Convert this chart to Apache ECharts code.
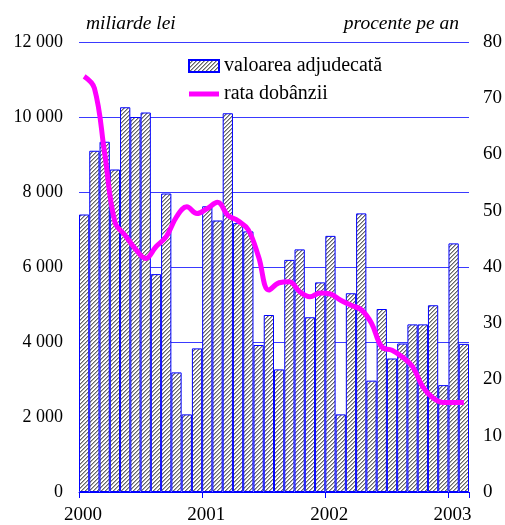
<!DOCTYPE html>
<html>
<head>
<meta charset="utf-8">
<script src="https://cdn.jsdelivr.net/npm/echarts@6/dist/echarts.min.js"></script>
<style>
html,body{margin:0;padding:0;background:#fff;}
#chart{width:505px;height:525px;}
</style>
</head>
<body>
<div id="chart"></div>
<script>
var months = ['2000-01','2000-02','2000-03','2000-04','2000-05','2000-06','2000-07','2000-08','2000-09','2000-10','2000-11','2000-12',
'2001-01','2001-02','2001-03','2001-04','2001-05','2001-06','2001-07','2001-08','2001-09','2001-10','2001-11','2001-12',
'2002-01','2002-02','2002-03','2002-04','2002-05','2002-06','2002-07','2002-08','2002-09','2002-10','2002-11','2002-12',
'2003-01','2003-02'];
var valoareaAdjudecata = [7400, 9100, 9340, 8600, 10260, 10000, 10120, 5810, 7960, 3190, 2070, 3830,
7620, 7240, 10100, 7170, 6950, 3920, 4720, 3270, 6190, 6470, 4660, 5590,
6830, 2070, 5300, 7430, 2970, 4880, 3560, 3960, 4470, 4470, 4980, 2850,
6630, 3950];
var rataDobanzii = [73.9, 71.8, 60.2, 48.0, 45.6, 43.2, 41.5, 43.6, 45.4, 48.9, 50.7, 49.5,
50.4, 51.5, 49.2, 48.2, 46.6, 41.8, 35.9, 37.2, 37.4, 35.6, 34.7, 35.4,
35.2, 34.1, 33.2, 32.4, 30.0, 25.8, 25.2, 24.0, 22.3, 18.7, 16.7, 15.9,
15.9, 15.9];
var yearLabels = ['2000','2001','2002','2003'];
var leftTicks = {min: 0, max: 12000, interval: 2000};
var rightTicks = {min: 0, max: 80, interval: 10};
var seriesNames = ['valoarea adjudecată', 'rata dobânzii'];

// hatch pattern (diagonal, grey on white)
var pc = document.createElement('canvas');
pc.width = 4; pc.height = 4;
var ctx = pc.getContext('2d');
ctx.fillStyle = '#ffffff';
ctx.fillRect(0,0,4,4);
ctx.fillStyle = '#666666';
for (var i = 0; i < 4; i++) { ctx.fillRect(i, 3 - i, 1, 1); }
ctx.fillStyle = '#aaaaaa';
for (var j = 0; j < 4; j++) { ctx.fillRect((j + 1) % 4, 3 - j, 1, 1); }
var hatch = {image: pc, repeat: 'repeat'};

var FONT = '"Liberation Serif", "Times New Roman", Times, serif';
var chart = echarts.init(document.getElementById('chart'), null, {renderer: 'canvas'});
chart.setOption({
  animation: false,
  backgroundColor: '#ffffff',
  grid: {left: 79, right: 34, top: 42, bottom: 32, containLabel: false},
  legend: {
    left: 183, top: 51, orient: 'vertical', itemGap: 8,
    itemWidth: 30, itemHeight: 12,
    textStyle: {fontFamily: FONT, fontSize: 20, color: '#000'},
    data: [
      {name: seriesNames[0], icon: 'rect'},
      {name: seriesNames[1], icon: 'path://M0,0 L60,0 L60,10 L0,10 Z'}
    ]
  },
  xAxis: [{
    type: 'category', data: months, boundaryGap: true,
    axisLine: {show: true, lineStyle: {color: '#0000ff', width: 1}},
    axisTick: {show: true, interval: function (idx) { return idx % 12 === 0; }, length: 6, lineStyle: {color: '#0000ff'}},
    axisLabel: {show: false},
    splitLine: {show: false}
  }, {
    type: 'value', min: 0, max: months.length, interval: 12, position: 'bottom',
    axisLine: {show: false}, axisTick: {show: false}, splitLine: {show: false},
    axisLabel: {
      margin: 14, fontFamily: FONT, fontSize: 19, color: '#000', showMaxLabel: false,
      padding: [0, 0, 0, 8],
      formatter: function (v) { return v % 12 === 0 ? yearLabels[v / 12] : ''; }
    }
  }],
  yAxis: [{
    type: 'value', min: leftTicks.min, max: leftTicks.max, interval: leftTicks.interval,
    axisLine: {show: false}, axisTick: {show: false},
    axisLabel: {margin: 16, fontFamily: FONT, fontSize: 18, color: '#000',
      formatter: function (v) { return String(v).replace(/\B(?=(\d{3})+(?!\d))/g, ' '); }},
    splitLine: {show: true, lineStyle: {color: '#3a3aff', width: 1}}
  }, {
    type: 'value', min: rightTicks.min, max: rightTicks.max, interval: rightTicks.interval, position: 'right',
    axisLine: {show: false}, axisTick: {show: false},
    axisLabel: {margin: 14, fontFamily: FONT, fontSize: 19, color: '#000'},
    splitLine: {show: false}
  }],
  series: [{
    name: seriesNames[0], type: 'bar', xAxisIndex: 0, yAxisIndex: 0,
    data: valoareaAdjudecata, barCategoryGap: '0%',
    itemStyle: {color: hatch, borderColor: '#0000ff', borderWidth: 1}
  }, {
    name: seriesNames[1], type: 'line', xAxisIndex: 0, yAxisIndex: 1,
    data: rataDobanzii, smooth: 0.4, symbol: 'none', z: 5,
    lineStyle: {color: '#ff00ff', width: 5},
    itemStyle: {color: '#ff00ff'}
  }],
  graphic: [{
    type: 'text', left: 86, top: 14,
    style: {text: 'miliarde lei', font: 'italic 19.5px "Liberation Serif", "Times New Roman", serif', fill: '#000'}
  }, {
    type: 'text', right: 46, top: 14,
    style: {text: 'procente pe an', font: 'italic 19.5px "Liberation Serif", "Times New Roman", serif', fill: '#000'}
  }]
});
</script>
</body>
</html>
